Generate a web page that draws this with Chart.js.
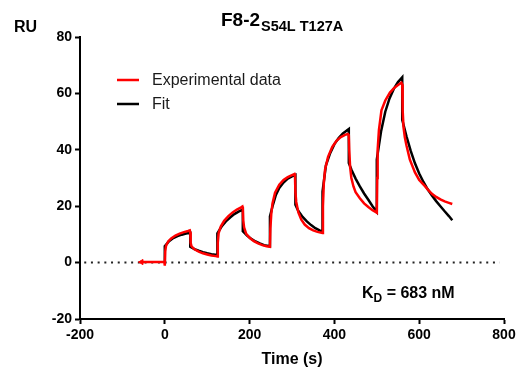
<!DOCTYPE html>
<html lang="en">
<head>
    <meta charset="UTF-8">
    <title>F8-2 S54L T127A sensorgram</title>
    <script src="https://cdn.jsdelivr.net/npm/chart.js@4.4.0/dist/chart.umd.min.js"></script>
    <style>
        html, body {
            margin: 0;
            padding: 0;
            background: #fff;
        }
        .wrap {
            width: 519px;
            height: 369px;
        }
    </style>
</head>
<body>
    <div class="wrap">
        <canvas id="spr" width="519" height="369"></canvas>
    </div>

    <script>
        // Experimental trace (red), time in s and response in RU
        const expT = [-55, -40, -20, -1, 0, 1, 3, 8, 15, 25, 35, 45, 55, 59, 60, 61, 63, 70, 80, 90, 100, 110, 120, 124,
            125, 127, 132, 140, 150, 160, 170, 180, 183, 184, 185, 187, 192, 200, 210, 220, 230, 240, 248,
            249, 251, 254, 260, 270, 280, 290, 300, 306, 307, 308, 310, 315, 322, 330, 340, 350, 360, 372,
            373, 375, 378, 385, 395, 405, 415, 425, 432, 434, 435, 437, 440, 445, 450, 460, 470, 480, 490, 499,
            500, 501, 502, 505, 511, 520, 531, 540, 550, 558, 560, 561, 563, 566, 570, 578, 590, 600, 613, 621,
            630, 640, 650, 660, 670, 678];
        const expRU = [0.2, 0.2, 0.2, 0.2, -1.1, 4, 6, 7.5, 8.6, 9.6, 10.3, 10.8, 11.2, 11.4, 10.8, 7, 5.8, 4.7, 3.9, 3.3, 2.9, 2.5, 2.3, 2.2,
            7, 10.5, 12.8, 14.8, 16.5, 17.8, 18.8, 19.6, 19.9, 19.2, 15, 12.5, 10.2, 8.8, 7.6, 6.8, 6.2, 5.8, 5.6,
            12, 17, 21, 24.8, 27.6, 29.3, 30.3, 31.0, 31.4, 31.0, 25, 21.5, 17.8, 15.2, 13.5, 12.2, 11.4, 10.9, 10.5,
            20, 28, 33, 37.5, 41, 43.2, 44.5, 45.3, 45.6, 45.2, 40, 34, 30, 27, 25, 22.8, 21, 19.7, 18.6, 17.8,
            17.7, 30, 40, 47, 54, 57.5, 60.3, 61.8, 63, 63.8, 63.2, 54, 48, 44.5, 41.5, 36.5, 32, 29.3, 27.2, 25.8,
            24.4, 23.3, 22.4, 21.7, 21.2, 20.8];

        // Kinetic fit (black)
        const fitT = [0, 0, 10, 20, 30, 40, 50, 60, 60, 70, 80, 90, 100, 110, 124,
            124, 134, 144, 154, 164, 174, 184, 184, 194, 204, 214, 224, 234, 248,
            248, 255, 262, 270, 280, 290, 300, 308, 308, 315, 325, 335, 345, 355, 365, 372,
            372, 380, 390, 400, 410, 420, 434, 434, 440, 450, 460, 470, 480, 490, 500,
            500, 510, 520, 530, 540, 550, 560, 560, 570, 580, 590, 600, 610, 620, 630, 640, 650, 660, 670, 678];
        const fitRU = [0, 5.8, 7.6, 8.7, 9.4, 9.9, 10.3, 10.6, 5.6, 4.8, 4.2, 3.7, 3.3, 3.0, 2.7,
            10.4, 12.8, 14.6, 16.0, 17.2, 18.1, 18.8, 11.1, 9.6, 8.4, 7.5, 6.8, 6.2, 5.8,
            16.4, 20.5, 24.0, 26.5, 28.4, 29.8, 30.6, 31.1, 20.5, 18.3, 16.2, 14.6, 13.3, 12.2, 11.4, 11.0,
            25.2, 34.5, 38.8, 42.0, 44.2, 45.8, 47.4, 35.3, 33.0, 29.8, 27.0, 24.5, 22.3, 20.0, 18.0,
            36.5, 46.5, 53.5, 58.2, 61.6, 64.0, 65.7, 50.6, 44.8, 39.6, 35.2, 31.6, 28.6, 26.0, 23.8, 21.8, 20.0, 18.2, 16.5, 15.0];

        // dotted zero line
        const zeroT = [-190, 790];
        const zeroRU = [0, 0];

        const xTicks = [-200, 0, 200, 400, 600, 800];
        const yTicks = [-20, 0, 20, 40, 60, 80];

        const FONT = '"Liberation Sans", Arial, Helvetica, sans-serif';

        function pts(xs, ys) {
            return xs.map((x, i) => ({ x: x, y: ys[i] }));
        }

        // title, RU label, KD note and legend
        const annotations = {
            id: 'annotations',
            afterDraw(chart) {
                const c = chart.ctx;
                c.save();
                c.fillStyle = '#000';
                c.textBaseline = 'alphabetic';
                c.textAlign = 'left';

                c.font = 'bold 16px ' + FONT;
                c.fillText('RU', 14, 32);

                // title with subscript
                const x0 = 221;
                c.font = 'bold 19px ' + FONT;
                c.fillText('F8-2', x0, 26);
                const wMain = c.measureText('F8-2').width;
                c.font = 'bold 14.5px ' + FONT;
                c.fillText('S54L T127A', x0 + wMain + 1, 31);

                // KD
                c.font = 'bold 16px ' + FONT;
                c.fillText('K', 362, 298);
                const wK = c.measureText('K').width;
                c.font = 'bold 12px ' + FONT;
                c.fillText('D', 362 + wK, 302);
                const wD = c.measureText('D').width;
                c.font = 'bold 16px ' + FONT;
                c.fillText(' = 683 nM', 362 + wK + wD, 298);

                // legend
                const items = chart.data.datasets.filter(d => d.label);
                items.forEach((d, i) => {
                    const y = 80 + i * 24;
                    c.strokeStyle = d.borderColor;
                    c.lineWidth = 2.5;
                    c.beginPath();
                    c.moveTo(117, y);
                    c.lineTo(139, y);
                    c.stroke();
                    c.fillStyle = '#1a1a1a';
                    c.font = '16px ' + FONT;
                    c.fillText(d.label, 152, y + 5);
                });
                c.restore();
            }
        };

        const ctx = document.getElementById('spr').getContext('2d');
        new Chart(ctx, {
            type: 'scatter',
            data: {
                datasets: [
                    {
                        label: 'Experimental data',
                        data: pts(expT, expRU),
                        showLine: true,
                        borderColor: '#ff0000',
                        backgroundColor: '#ff0000',
                        borderWidth: 2.5,
                        tension: 0,
                        pointStyle: 'triangle',
                        pointRotation: -90,
                        pointRadius: c => c.dataIndex === 0 ? 3 : 0,
                        pointBorderWidth: 1
                    },
                    {
                        label: 'Fit',
                        data: pts(fitT, fitRU),
                        showLine: true,
                        borderColor: '#000000',
                        borderWidth: 2.5,
                        tension: 0,
                        pointRadius: 0
                    },
                    {
                        label: '',
                        data: pts(zeroT, zeroRU),
                        showLine: true,
                        borderColor: '#222',
                        borderWidth: 2,
                        borderDash: [2, 4.7],
                        pointRadius: 0
                    }
                ]
            },
            options: {
                responsive: false,
                animation: false,
                events: [],
                layout: {
                    padding: { top: 37, right: 15, left: 0, bottom: 0 }
                },
                plugins: {
                    legend: { display: false },
                    title: { display: false },
                    tooltip: { enabled: false }
                },
                scales: {
                    x: {
                        type: 'linear',
                        min: -200,
                        max: 800,
                        afterBuildTicks: s => { s.ticks = xTicks.map(v => ({ value: v })); },
                        afterFit: s => { s.height = 50; },
                        border: { display: true, color: '#000', width: 2 },
                        grid: {
                            drawOnChartArea: false,
                            drawTicks: true,
                            tickLength: 5,
                            tickWidth: 2,
                            tickColor: '#000'
                        },
                        ticks: {
                            color: '#000',
                            padding: 3,
                            maxRotation: 0,
                            font: { family: FONT, size: 14, weight: 'bold' }
                        },
                        title: {
                            display: true,
                            text: 'Time (s)',
                            color: '#000',
                            padding: { top: 0, bottom: 0 },
                            font: { family: FONT, size: 16, weight: 'bold' }
                        }
                    },
                    y: {
                        type: 'linear',
                        min: -20,
                        max: 80,
                        afterBuildTicks: s => { s.ticks = yTicks.map(v => ({ value: v })); },
                        afterFit: s => { s.width = 80; },
                        border: { display: true, color: '#000', width: 2 },
                        grid: {
                            drawOnChartArea: false,
                            drawTicks: true,
                            tickLength: 5,
                            tickWidth: 2,
                            tickColor: '#000'
                        },
                        ticks: {
                            color: '#000',
                            padding: 3,
                            font: { family: FONT, size: 14, weight: 'bold' }
                        }
                    }
                }
            },
            plugins: [annotations]
        });
    </script>
</body>
</html>
